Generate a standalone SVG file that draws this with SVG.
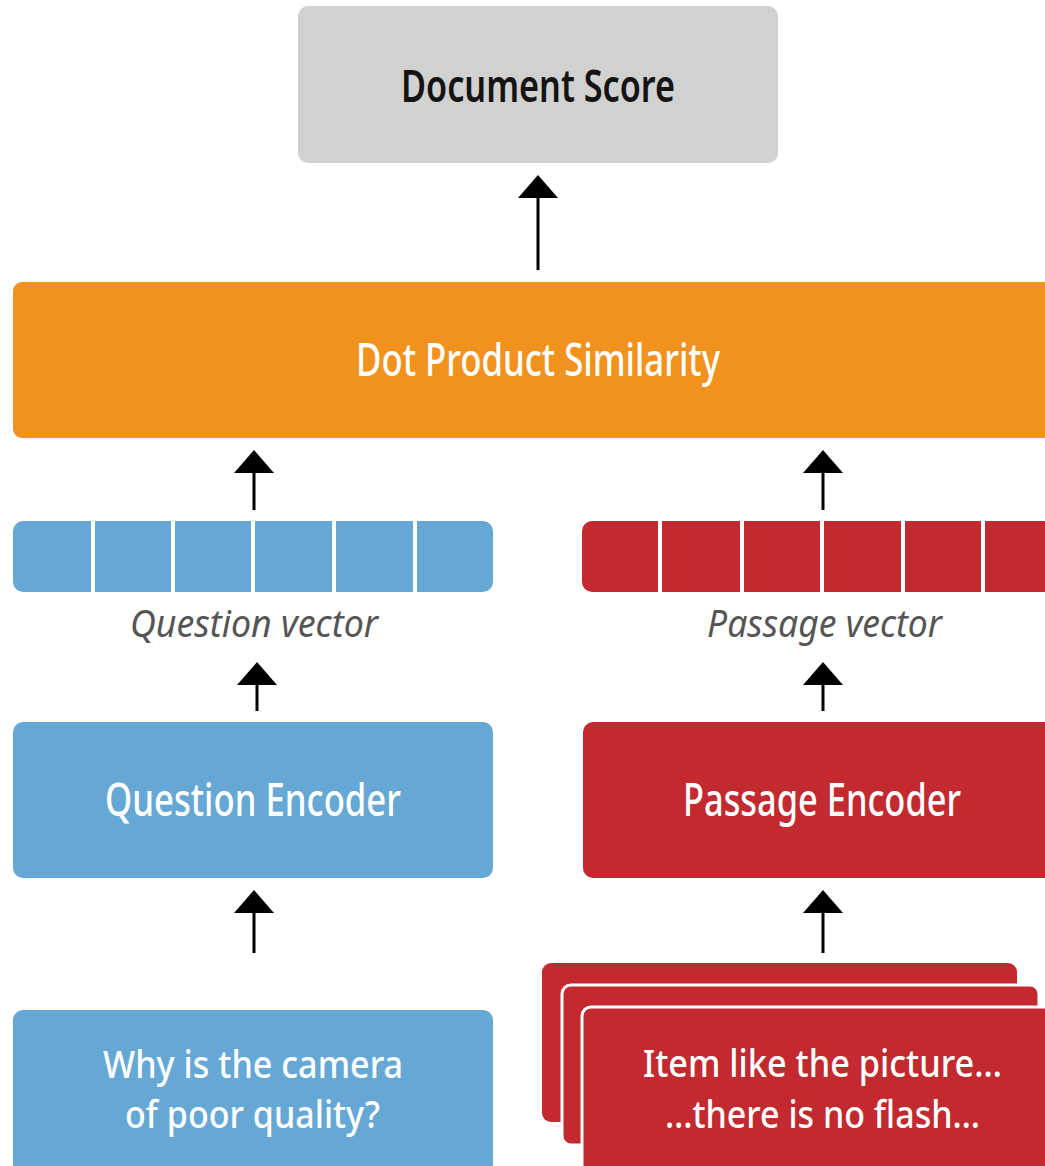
<svg xmlns="http://www.w3.org/2000/svg" width="1045" height="1166" viewBox="0 0 1045 1166">
  <defs>
    <style>
      .lbl { font-family: "Noto Sans", "Open Sans", "DejaVu Sans", sans-serif; font-weight: 500; font-size: 45px; }
      .two { font-size: 38px; }
      .w { fill: #ffffff; }
      .k { fill: #141414; font-weight: 600; }
      .cap { font-family: "Noto Sans", "Open Sans", "DejaVu Sans", sans-serif; font-style: italic; font-size: 39px; fill: #555555; }
      .gray { fill: #d1d1d0; }
      .orange { fill: #f2921e; }
      .blue { fill: #66a8d5; }
      .red { fill: #c22a30; }
      .conn line { stroke: #000000; stroke-width: 3; }
      .conn polygon { fill: #000000; }
    </style>
  </defs>
  <rect width="1045" height="1166" fill="#ffffff"/>

  <!-- Document score -->
  <g id="document-score">
    <rect class="gray" x="298" y="6" width="480" height="157" rx="10"/>
    <text class="lbl k" x="401" y="102" textLength="274" lengthAdjust="spacingAndGlyphs">Document Score</text>
  </g>

  <!-- Similarity bar -->
  <g id="dot-product">
    <rect class="orange" x="13" y="282" width="1052" height="156" rx="9"/>
    <text class="lbl w" x="356" y="376" textLength="364" lengthAdjust="spacingAndGlyphs">Dot Product Similarity</text>
  </g>

  <!-- Question vector -->
  <g id="question-vector">
    <rect class="blue" x="13" y="521" width="480" height="71" rx="10"/>
    <g fill="#ffffff">
      <rect x="91" y="521" width="4" height="71"/>
      <rect x="171" y="521" width="4" height="71"/>
      <rect x="251" y="521" width="4" height="71"/>
      <rect x="332" y="521" width="4" height="71"/>
      <rect x="413" y="521" width="4" height="71"/>
    </g>
    <text class="cap" x="130" y="637" textLength="248" lengthAdjust="spacingAndGlyphs">Question vector</text>
  </g>

  <!-- Passage vector -->
  <g id="passage-vector">
    <rect class="red" x="582" y="521" width="480" height="71" rx="10"/>
    <g fill="#ffffff">
      <rect x="658" y="521" width="4" height="71"/>
      <rect x="740" y="521" width="4" height="71"/>
      <rect x="820" y="521" width="4" height="71"/>
      <rect x="901" y="521" width="4" height="71"/>
      <rect x="981" y="521" width="4" height="71"/>
    </g>
    <text class="cap" x="707" y="637" textLength="235" lengthAdjust="spacingAndGlyphs">Passage vector</text>
  </g>

  <!-- Encoders -->
  <g id="question-encoder">
    <rect class="blue" x="13" y="722" width="480" height="156" rx="10"/>
    <text class="lbl w" x="105" y="816" textLength="296" lengthAdjust="spacingAndGlyphs">Question Encoder</text>
  </g>
  <g id="passage-encoder">
    <rect class="red" x="583" y="722" width="480" height="156" rx="10"/>
    <text class="lbl w" x="683" y="816" textLength="278" lengthAdjust="spacingAndGlyphs">Passage Encoder</text>
  </g>

  <!-- Query input -->
  <g id="question-input">
    <rect class="blue" x="13" y="1010" width="480" height="166" rx="10"/>
    <text class="lbl two w" x="103" y="1078" textLength="300" lengthAdjust="spacingAndGlyphs">Why is the camera</text>
    <text class="lbl two w" x="125" y="1128" textLength="255" lengthAdjust="spacingAndGlyphs">of poor quality?</text>
  </g>

  <!-- Passage inputs (stack of documents) -->
  <g id="passage-input">
    <rect class="red" x="542" y="963" width="475" height="159" rx="9"/>
    <rect class="red" x="562" y="985" width="477" height="160" rx="9" stroke="#ffffff" stroke-width="3"/>
    <rect class="red" x="582" y="1007" width="480" height="170" rx="9" stroke="#ffffff" stroke-width="3"/>
    <text class="lbl two w" x="643" y="1077" textLength="359" lengthAdjust="spacingAndGlyphs">Item like the picture…</text>
    <text class="lbl two w" x="665" y="1128" textLength="315" lengthAdjust="spacingAndGlyphs">…there is no flash…</text>
  </g>

  <!-- Connectors -->
  <g id="connectors" class="conn">
    <line x1="538" y1="270" x2="538" y2="195"/>
    <polygon points="538,175 518,198 558,198"/>

    <line x1="254" y1="510" x2="254" y2="470"/>
    <polygon points="254,450 234,473 274,473"/>
    <line x1="823" y1="510" x2="823" y2="470"/>
    <polygon points="823,450 803,473 843,473"/>

    <line x1="257" y1="711" x2="257" y2="680"/>
    <polygon points="257,662 237,685 277,685"/>
    <line x1="823" y1="711" x2="823" y2="680"/>
    <polygon points="823,662 803,685 843,685"/>

    <line x1="254" y1="953" x2="254" y2="910"/>
    <polygon points="254,890 234,913 274,913"/>
    <line x1="823" y1="953" x2="823" y2="910"/>
    <polygon points="823,890 803,913 843,913"/>
  </g>
</svg>
